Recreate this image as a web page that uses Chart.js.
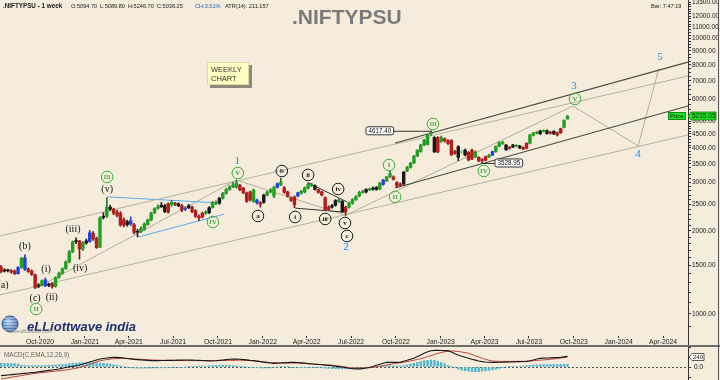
<!DOCTYPE html>
<html><head><meta charset="utf-8">
<script src="https://cdn.jsdelivr.net/npm/chart.js@4.4.1/dist/chart.umd.min.js"></script>
<style>
html,body{margin:0;padding:0;background:#f5ecdb;overflow:hidden;}
#wrap{position:relative;width:720px;height:380px;background:#f5ecdb;}
#main{position:absolute;left:0;top:0;width:720px;height:347px;}
#macd{position:absolute;left:0;top:347px;width:720px;height:33px;}
</style></head><body>
<div id="wrap"><canvas id="main" width="720" height="347"></canvas><canvas id="macd" width="720" height="33"></canvas></div>
<script>
// ---------- data ----------
const weekStart = '2020-07-13';
const candleOpen = [
1480,1430,1445,1435,1430,1400,1475,1600,1455,1430,
1390,1260,1275,1330,1270,1290,1260,1360,1405,1460,
1545,1680,1830,1840,1720,1810,1830,1960,1880,1750,
2240,2260,2440,2400,2340,2320,2200,2110,2180,2110,
1980,1990,2030,2110,2190,2330,2420,2450,2470,2340,
2540,2500,2510,2470,2400,2470,2440,2370,2260,2250,
2320,2330,2430,2540,2520,2630,2740,2830,2890,2990,
2930,2860,2750,2590,2810,2590,2530,2540,2700,2770,
2680,2880,3010,2870,2770,2640,2490,2680,2740,2770,
2860,2950,2920,2820,2770,2640,2400,2440,2480,2580,
2560,2350,2440,2520,2600,2680,2760,2770,2830,2830,
2830,2840,2950,3040,3230,3140,3000,2930,2960,3300,
3400,3530,3740,3880,4100,4120,4500,4370,3870,4370,
4320,4260,4260,3830,3700,3880,3930,3860,3650,3870,
3700,3620,3610,3710,3770,3880,4060,4180,4100,3990,
4030,4080,4070,4020,3990,4160,4450,4530,4500,4610,
4620,4520,4600,4540,4540,4750,5095];
const candleHigh = [
1500,1460,1455,1450,1445,1485,1600,1640,1470,1445,
1395,1290,1330,1350,1295,1300,1365,1420,1470,1560,
1700,1840,1890,1850,1830,1870,2010,1990,1900,2250,
2330,2640,2480,2420,2380,2350,2230,2190,2250,2130,
2030,2070,2140,2210,2340,2430,2490,2540,2500,2530,
2580,2540,2530,2500,2450,2500,2460,2390,2290,2340,
2370,2450,2560,2570,2650,2760,2860,2920,3000,3060,
2950,2880,2770,2790,2840,2610,2560,2720,2790,2850,
2910,2990,3110,2900,2790,2660,2680,2770,2810,2890,
2990,2980,2940,2840,2790,2660,2470,2500,2600,2620,
2580,2460,2550,2620,2690,2790,2810,2850,2860,2890,
2900,3000,3080,3160,3300,3170,3020,2990,3290,3430,
3550,3760,3950,4130,4300,4480,4617,4400,4400,4420,
4350,4290,4290,3920,4080,3920,3960,3880,3960,3900,
3720,3660,3740,3790,3900,4070,4210,4230,4120,4050,
4120,4110,4090,4040,4180,4480,4560,4590,4640,4650,
4650,4600,4620,4570,4720,5060,5247];
const candleLow = [
1410,1420,1420,1405,1390,1395,1465,1440,1415,1380,
1235,1245,1265,1255,1255,1240,1250,1345,1395,1450,
1535,1670,1800,1580,1700,1790,1820,1850,1730,1740,
2210,2240,2370,2290,2250,2080,2070,2080,2090,1950,
1905,1970,2010,2100,2180,2310,2400,2430,2330,2320,
2460,2470,2450,2350,2370,2410,2330,2240,2180,2230,
2300,2310,2420,2490,2500,2610,2720,2810,2870,2860,
2800,2730,2540,2570,2540,2500,2440,2520,2680,2750,
2640,2860,2920,2740,2650,2560,2430,2660,2720,2750,
2840,2900,2810,2740,2680,2370,2380,2420,2460,2540,
2330,2280,2420,2500,2580,2660,2740,2750,2800,2810,
2810,2820,2930,3020,3120,3060,2870,2900,2940,3280,
3380,3510,3720,3860,4080,4100,4440,3850,3840,4190,
4200,4120,3750,3790,3600,3820,3740,3590,3630,3690,
3570,3529,3590,3690,3750,3860,4040,4120,3920,3960,
4010,4040,3980,3940,3970,4140,4420,4500,4480,4570,
4490,4490,4470,4420,4520,4730,5090];
const candleClose = [
1425,1445,1435,1420,1400,1475,1595,1450,1425,1390,
1250,1275,1320,1265,1280,1255,1355,1405,1460,1545,
1680,1825,1840,1720,1810,1840,1970,1870,1740,2230,
2260,2440,2400,2320,2280,2100,2100,2160,2120,1975,
1990,2040,2120,2190,2320,2410,2450,2480,2350,2510,
2490,2510,2470,2380,2410,2430,2350,2260,2230,2320,
2340,2430,2540,2520,2630,2740,2830,2890,2940,2880,
2820,2750,2560,2770,2560,2530,2500,2700,2770,2820,
2880,2970,2940,2760,2670,2580,2660,2750,2790,2870,
2950,2930,2830,2760,2700,2390,2440,2470,2580,2570,
2350,2440,2530,2600,2660,2760,2780,2830,2820,2860,
2880,2980,3060,3140,3150,3080,2910,2960,3270,3400,
3520,3730,3920,4100,4270,4450,4540,3870,4370,4220,
4250,4150,3780,3880,4040,3860,3770,3620,3930,3710,
3590,3600,3720,3760,3880,4050,4180,4160,3940,4010,
4100,4060,4000,3960,4160,4460,4530,4550,4610,4600,
4510,4560,4500,4460,4700,5030,5215.05];
// candle colour class: g up, r down, b blue bar, k doji, p pale bar
const candleKind = ('rkkrrbgbrrrkgbkrggggggkrgkbrrgkgkrrrrkbrkggggggkkrgrkrbkrrrrgkggkggggg'
  + 'r' + 'rrrgbrkggg' + 'bgrrrrbggg' + 'gkrrrrkkgk' + 'rgggggkgkk' + 'gbggrrrk'
  + 'gg' + 'ggggggkrgr' + 'rrrkpkrrgr' + 'rrgbgggkrk' + 'gkrrgggkgk' + 'rkrrggg').split('');

const macdLine = [
-208,-200,-192,-184,-176,-168,-160,-152,-144,-136,-128,
-117,-105,-94,-82,-71,-60,-48,
-30,-12,6,16,30,48,
70,95,120,145,170,192,
205,215,225,232,
230,225,215,205,195,184,
178,170,165,158,152,
152,153,155,157,158,160,162,164,165,167,168,
166,163,160,156,152,148,144,
150,158,167,176,185,192,
190,185,178,170,160,152,
142,130,118,106,96,88,
90,95,100,105,110,112,
108,100,92,82,72,
66,60,54,46,40,32,
20,10,0,-15,-30,-40,
-45,-45,-40,-25,-10,
10,40,65,90,112,
115,112,110,112,
140,160,185,208,
250,290,330,365,392,
400,398,396,394,392,
360,320,288,260,235,208,
185,165,144,130,120,115,112,
112,114,116,118,120,124,128,130,133,136,
150,170,190,208,
212,216,220,224,228,232,
244,256];
const macdSignal = [
-288,-274,-260,-246,-232,-220,-206,-192,-178,-165,-152,
-143,-134,-125,-116,-108,-99,-90,-81,-72,
-60,-46,-30,-12,10,35,65,95,125,150,
165,178,190,198,204,208,
207,204,200,195,190,185,179,173,168,
166,164,162,161,160,159,158,157,156,155,154,153,153,152,
152,152,153,154,155,156,157,158,159,160,
162,163,162,160,156,150,142,133,124,112,
108,104,101,99,98,97,96,94,92,90,87,83,78,72,64,
58,52,46,40,32,22,12,0,-16,
-22,-25,-26,-25,-21,-15,-8,
5,18,32,46,62,80,
92,104,116,130,145,162,180,200,222,248,
275,300,325,348,366,378,384,
380,372,360,345,328,
300,270,240,210,185,162,144,
138,135,134,134,134,135,135,136,136,136,
142,150,158,165,171,176,
184,194,205,216,228,240];
const macdHist = [
88,88,86,84,80,70,
40,36,34,32,32,32,34,36,40,44,50,55,
60,70,80,90,96,100,104,108,110,108,104,100,90,80,70,56,42,28,12,
-8,-18,-24,-28,-30,-30,-28,-26,-24,-22,-20,-18,
-16,-14,-12,-10,-8,-4,
8,16,20,24,24,24,
30,36,40,42,44,44,40,34,26,16,
6,0,-6,
-14,-20,-24,-26,-24,-20,-12,
0,8,10,6,
-6,-12,-16,-18,-18,-16,-14,-14,-16,
-22,-28,-34,-38,-40,-42,-42,-40,-36,-32,-26,-20,
-14,-8,-2,
8,16,24,30,32,32,30,28,26,32,
50,70,90,110,130,150,160,168,160,140,110,80,
40,10,-20,
-50,-70,-90,-100,-110,-112,-110,-100,-90,-80,-70,-55,-35,
-10,0,6,10,12,14,
20,30,40,48,52,56,58,60,60,62,62,64,64,64];

const tickDates = ['2020-10-01','2021-01-01','2021-04-01','2021-07-01','2021-10-01','2022-01-01','2022-04-01','2022-07-01','2022-10-01','2023-01-01','2023-04-01','2023-07-01','2023-10-01','2024-01-01','2024-04-01'];
const tickLabels = ['Oct-2020','Jan-2021','Apr-2021','Jul-2021','Oct-2021','Jan-2022','Apr-2022','Jul-2022','Oct-2022','Jan-2023','Apr-2023','Jul-2023','Oct-2023','Jan-2024','Apr-2024'];
const priceTicks = [1000,1500,2000,2500,3000,3500,4000,4500,5000,6000,7000,8000,9000,10000,11000,12000,13500];

// Elliott wave labels: text, week index, price level, style
const waveText  = ['(a)','(b)','(c)','II','(i)','(ii)','(iii)','(iv)','(v)','III','IV','V','1','a','b','i','ii','iii','iv','v','c','2','I','II','III','IV','V','3','4','5'];
const waveWeek  = [0.6,7.0,10.0,10.3,13.2,14.9,21.1,23.2,31.1,31.1,62.1,69.4,69.2,75.3,82.3,86.2,90.0,95.0,98.8,100.8,101.4,101.1,113.7,115.5,126.6,141.5,168.2,167.9,186.7,193.1];
const wavePrice = [1274,1764,1143,1042,1456,1153,2034,1468,2840,3140,2156,3246,3588,2267,3301,2248,3193,2211,2840,2138,1918,1750,3470,2660,4888,3301,6023,6714,3805,8553];
const waveStyle = ['p','p','p','g','p','p','p','p','p','g','g','g','n','k','k','k','k','k','k','k','k','n','g','g','g','g','g','n','n','n'];

// trend lines: [week, price] anchors
const channelUpper = [[115.5,4170],[201.3,8200]];
const channelLower = [[115.5,2864],[201.3,5680]];
const longUpper    = [[-0.3,1918],[201.3,7300]];
const longLower    = [[-0.3,1172],[201.3,4460]];
const tri2021Top   = [[31.1,2660],[63.3,2530]];
const tri2021Bot   = [[40.1,1900],[65.3,2300]];
const tri2022Top   = [[90.0,2990],[101.4,2550]];
const tri2022Bot   = [[86.2,2420],[100.8,2340]];
// wave path II-1-2 and projected 3-4-5
const wavePath     = [[10.0,1235],[69.0,3060],[101.0,2280],[167.6,5680],[186.7,4070],[192.8,7800]];

// marked extremes: value, candle week, box left week
const markValue = [4617.40, 3528.95];
const markWeek  = [126.2, 140.8];
const markBoxWeek = [106.8, 144.6];

// ---------- helpers ----------
const WEEK_MS = 7 * 86400000;
const toWeek = d => (Date.parse(d) - Date.parse(weekStart)) / WEEK_MS;
const tickWeeks = tickDates.map(toWeek);
const X_MIN = -0.293, X_MAX = 201.32;
const bodyCol = {g:'#22a022', r:'#b51d1d', b:'#2343d8', k:'#1a1a1a', p:'#a6d9a0'};
const wickCol = {g:'#2d722d', r:'#7c1a1a', b:'#2343d8', k:'#222222', p:'#86bd86'};
const SANS = '"Liberation Sans", Arial, sans-serif';
const SERIF = '"Liberation Serif", "DejaVu Serif", serif';
Chart.defaults.font.family = SANS;

const minorTicks = [];
for (let v = 900; v < 5000; v += 100) minorTicks.push(v);
for (let v = 5000; v <= 13500; v += 250) minorTicks.push(v);
const allPriceTicks = Array.from(new Set(minorTicks.concat(priceTicks))).sort((a,b)=>a-b);
const majorSet = new Set(priceTicks);

function lineDS(pts, color, width, dash) {
  return {type:'line', data: pts.map(p => ({x:p[0], y:p[1]})), borderColor: color, borderWidth: width,
    borderDash: dash || [], pointRadius: 0, fill: false, order: 5, tension: 0};
}

function roundRect(ctx, x, y, w, h, r) {
  ctx.beginPath();
  ctx.moveTo(x + r, y); ctx.lineTo(x + w - r, y); ctx.quadraticCurveTo(x + w, y, x + w, y + r);
  ctx.lineTo(x + w, y + h - r); ctx.quadraticCurveTo(x + w, y + h, x + w - r, y + h);
  ctx.lineTo(x + r, y + h); ctx.quadraticCurveTo(x, y + h, x, y + h - r);
  ctx.lineTo(x, y + r); ctx.quadraticCurveTo(x, y, x + r, y); ctx.closePath();
}

const mainDecor = {
  id: 'mainDecor',
  afterDatasetsDraw(chart) {
    const {ctx, scales: {x, y}} = chart;
    ctx.save();
    // marked extremes with value boxes
    markValue.forEach((v, k) => {
      const py = y.getPixelForValue(v);
      const bx = x.getPixelForValue(markBoxWeek[k]);
      const cx = x.getPixelForValue(markWeek[k]);
      ctx.font = '6.3px ' + SANS;
      const txt = v.toFixed(2);
      const w = ctx.measureText(txt).width + 5;
      ctx.strokeStyle = '#333'; ctx.lineWidth = 1;
      ctx.beginPath();
      if (cx > bx) { ctx.moveTo(bx + w, py + 0.5); ctx.lineTo(cx, py + 0.5); }
      else { ctx.moveTo(cx, py + 0.5); ctx.lineTo(bx, py + 0.5); }
      ctx.stroke();
      roundRect(ctx, bx + 0.5, py - 4, w, 8, 2);
      ctx.fillStyle = '#ffffff'; ctx.fill(); ctx.stroke();
      ctx.fillStyle = '#111'; ctx.textAlign = 'left'; ctx.textBaseline = 'middle';
      ctx.fillText(txt, bx + 3, py + 0.5);
    });
    // wave labels
    ctx.textAlign = 'center'; ctx.textBaseline = 'middle';
    waveText.forEach((t, k) => {
      const px = x.getPixelForValue(waveWeek[k]);
      const py = y.getPixelForValue(wavePrice[k]);
      const s = waveStyle[k];
      if (s === 'p') {
        ctx.font = '10px ' + SERIF; ctx.fillStyle = '#111'; ctx.fillText(t, px, py);
      } else if (s === 'n') {
        ctx.font = '11px ' + SERIF; ctx.fillStyle = '#1a8cff'; ctx.fillText(t, px, py);
      } else {
        const col = s === 'g' ? '#36b236' : '#1a1a1a';
        ctx.beginPath(); ctx.arc(px, py, 5.8, 0, Math.PI * 2);
        ctx.lineWidth = 1; ctx.strokeStyle = col; ctx.stroke();
        ctx.font = (t.length > 2 ? 'bold 5.8px ' : 'bold 7px ') + SERIF; ctx.fillStyle = col;
        ctx.fillText(t, px, py + 0.5);
      }
    });
    ctx.restore();
  },
  afterDraw(chart) {
    const {ctx, scales: {y}} = chart;
    ctx.save();
    ctx.textBaseline = 'alphabetic'; ctx.textAlign = 'left';
    // header
    ctx.fillStyle = '#1a1a1a';
    ctx.font = 'bold 6.3px ' + SANS; ctx.fillText('.NIFTYPSU - 1 week', 3, 7.5);
    ctx.font = '5.6px ' + SANS;
    ctx.fillText('O:5094.70', 71, 7.5); ctx.fillText('L:5089.80', 100, 7.5);
    ctx.fillText('H:5246.70', 128, 7.5); ctx.fillText('C:5038.25', 157, 7.5);
    ctx.fillStyle = '#2060c8'; ctx.fillText('CH:3.51%', 195, 7.5);
    ctx.fillStyle = '#1a1a1a'; ctx.fillText('ATR(14): 211.157', 225, 7.5);
    ctx.font = '5.6px ' + SANS; ctx.fillText('Bar: 7:47:19', 651, 7.5);
    // title
    ctx.fillStyle = '#7b7b7b'; ctx.font = 'bold 21px ' + SANS; ctx.fillText('.NIFTYPSU', 292, 24);
    // weekly chart box
    ctx.fillStyle = '#8c8a7c'; ctx.fillRect(210, 65, 42, 23);
    ctx.fillStyle = '#ffffc4'; ctx.fillRect(207, 62, 42, 23);
    ctx.strokeStyle = '#e0dca8'; ctx.lineWidth = 1; ctx.strokeRect(207.5, 62.5, 41, 22);
    ctx.fillStyle = '#333'; ctx.font = '7.5px ' + SANS;
    ctx.fillText('WEEKLY', 211, 72); ctx.fillText('CHART', 211, 81);
    // logo
    const g = ctx.createRadialGradient(8, 321, 1, 10, 324, 9);
    g.addColorStop(0, '#9fc3ee'); g.addColorStop(1, '#24508f');
    ctx.fillStyle = g; ctx.beginPath(); ctx.arc(10, 324, 8.5, 0, Math.PI * 2); ctx.fill();
    ctx.strokeStyle = 'rgba(255,255,255,0.8)'; ctx.lineWidth = 0.8;
    for (let k = -2; k <= 2; k++) { ctx.beginPath(); ctx.moveTo(3, 324 + k * 3); ctx.lineTo(17, 324 + k * 3); ctx.stroke(); }
    ctx.fillStyle = '#1d2f70'; ctx.font = 'italic bold 13px ' + SANS;
    ctx.fillText('eLLiottwave india', 27, 331);
    ctx.fillStyle = '#8a8a8a'; ctx.font = '4.5px ' + SANS; ctx.fillText('www.elliottwave.com', 10, 333);
    // price marker
    const last = candleClose[candleClose.length - 1];
    const py = Math.round(y.getPixelForValue(last));
    ctx.fillStyle = '#1ee31e'; ctx.fillRect(668, py - 4, 18, 8);
    ctx.strokeStyle = '#0a7a0a'; ctx.strokeRect(668.5, py - 3.5, 17, 7);
    ctx.beginPath(); ctx.moveTo(688, py); ctx.lineTo(691, py - 4); ctx.lineTo(716, py - 4); ctx.lineTo(716, py + 4); ctx.lineTo(691, py + 4); ctx.closePath();
    ctx.fillStyle = '#1ee31e'; ctx.fill(); ctx.stroke();
    ctx.fillStyle = '#111'; ctx.font = '6px ' + SANS; ctx.textBaseline = 'middle';
    ctx.fillText('Price', 670, py + 0.5);
    ctx.font = '6.5px ' + SANS; ctx.fillText(last.toFixed(2), 692, py + 0.5);
    // frame pieces
    ctx.fillStyle = '#333'; ctx.fillRect(688, 336, 1, 10);
    ctx.fillStyle = '#6e6e6e'; ctx.fillRect(0, 345, 720, 2);
    ctx.fillStyle = '#555'; ctx.fillRect(718, 0, 1, 347);
    ctx.restore();
  }
};

const weeks = candleClose.map((_, i) => i);
new Chart(document.getElementById('main'), {
  type: 'bar',
  data: { datasets: [
    lineDS(channelUpper, '#4a4a4a', 1.2), lineDS(channelLower, '#4a4a4a', 1.2),
    lineDS(longUpper, '#b8b0a0', 1), lineDS(longLower, '#b8b0a0', 1),
    lineDS(tri2021Top, '#55aaee', 1), lineDS(tri2021Bot, '#55aaee', 1),
    lineDS(tri2022Top, '#333', 1), lineDS(tri2022Bot, '#333', 1),
    lineDS(wavePath, '#b4ac9c', 1),
    { type: 'bar', data: weeks.map(i => ({x: i, y: [candleLow[i], candleHigh[i]]})),
      backgroundColor: candleKind.map(k => wickCol[k]), barThickness: 1, grouped: false, order: 2, borderWidth: 0 },
    { type: 'bar', data: weeks.map(i => ({x: i, y: [Math.min(candleOpen[i], candleClose[i]), Math.max(candleOpen[i], candleClose[i])]})),
      backgroundColor: candleKind.map(k => bodyCol[k]), barThickness: 2.8, minBarLength: 1, grouped: false, order: 1, borderWidth: 0 }
  ]},
  options: {
    responsive: false, animation: false, devicePixelRatio: 1, events: [],
    layout: { padding: 0 },
    plugins: { legend: { display: false }, tooltip: { enabled: false } },
    scales: {
      x: { type: 'linear', min: X_MIN, max: X_MAX, offset: false,
        grid: { display: true, drawOnChartArea: false, drawTicks: true, tickLength: 2, color: '#333', offset: false },
        border: { display: false },
        ticks: { autoSkip: false, maxRotation: 0, padding: 0, color: '#222', font: { size: 6.8 },
          callback: (v, i) => tickLabels[i] },
        afterBuildTicks: s => { s.ticks = tickWeeks.map(v => ({value: v})); },
        afterFit: s => { s.height = 11; s.paddingLeft = 0; s.paddingRight = 0; }
      },
      y: { type: 'logarithmic', position: 'right', min: 832, max: 13765,
        grid: { display: true, drawOnChartArea: false, drawTicks: true, tickLength: 3, color: '#333' },
        border: { display: true, color: '#333', width: 1 },
        ticks: { autoSkip: false, padding: 1, color: '#222', font: { size: 6.5 },
          callback: v => majorSet.has(v) ? Number(v).toFixed(2) : '' },
        afterBuildTicks: s => { s.ticks = allPriceTicks.map(v => ({value: v})); },
        afterFit: s => { s.width = 32; s.paddingTop = 0; s.paddingBottom = 0; }
      }
    }
  },
  plugins: [mainDecor]
});

const macdDecor = {
  id: 'macdDecor',
  beforeDatasetsDraw(chart) {
    const {ctx, chartArea, scales: {y}} = chart;
    const py = Math.round(y.getPixelForValue(0)) + 0.5;
    ctx.save(); ctx.strokeStyle = '#555'; ctx.lineWidth = 1; ctx.setLineDash([2, 2]);
    ctx.beginPath(); ctx.moveTo(0, py); ctx.lineTo(chartArea.right, py); ctx.stroke(); ctx.restore();
  },
  afterDraw(chart) {
    const {ctx, scales: {y}} = chart;
    ctx.save();
    ctx.fillStyle = '#666'; ctx.font = '6.3px ' + SANS; ctx.textBaseline = 'middle';
    ctx.fillText('MACD(C,EMA,12,26,9)', 4, 8.5);
    const v = macdSignal[macdSignal.length - 1];
    const py = Math.round(y.getPixelForValue(v));
    ctx.beginPath(); ctx.moveTo(689, py); ctx.lineTo(692, py - 3.5); ctx.lineTo(704, py - 3.5); ctx.lineTo(704, py + 3.5); ctx.lineTo(692, py + 3.5); ctx.closePath();
    ctx.fillStyle = '#fff'; ctx.fill(); ctx.strokeStyle = '#333'; ctx.lineWidth = 0.8; ctx.stroke();
    ctx.fillStyle = '#111'; ctx.font = '6px ' + SANS; ctx.fillText(String(v), 693, py + 0.5);
    ctx.fillStyle = '#555'; ctx.fillRect(718, 0, 1, 33);
    ctx.restore();
  }
};

new Chart(document.getElementById('macd'), {
  type: 'bar',
  data: { datasets: [
    { type: 'line', data: macdLine.map((v, i) => ({x: i, y: v})), borderColor: '#1a1a1a', borderWidth: 1.1, pointRadius: 0, order: 0 },
    { type: 'line', data: macdSignal.map((v, i) => ({x: i, y: v})), borderColor: '#c0413a', borderWidth: 1, pointRadius: 0, order: 1 },
    { type: 'bar', data: macdHist.map((v, i) => ({x: i, y: v})), backgroundColor: '#55b7cb', barThickness: 1.8, grouped: false, order: 2, borderWidth: 0 }
  ]},
  options: {
    responsive: false, animation: false, devicePixelRatio: 1, events: [],
    layout: { padding: 0 },
    plugins: { legend: { display: false }, tooltip: { enabled: false } },
    scales: {
      x: { type: 'linear', min: X_MIN, max: X_MAX, offset: false, display: false },
      y: { position: 'right', min: -312, max: 480,
        grid: { display: true, drawOnChartArea: false, drawTicks: true, tickLength: 3, color: '#333' },
        border: { display: true, color: '#333', width: 1 },
        ticks: { autoSkip: false, padding: 3, color: '#222', font: { size: 6.5 }, callback: v => v === 0 ? '0.0' : '' },
        afterBuildTicks: s => { s.ticks = [-240, 0, 240, 480].map(v => ({value: v})); },
        afterFit: s => { s.width = 32; s.paddingTop = 0; s.paddingBottom = 0; }
      }
    }
  },
  plugins: [macdDecor]
});
</script>
</body></html>
